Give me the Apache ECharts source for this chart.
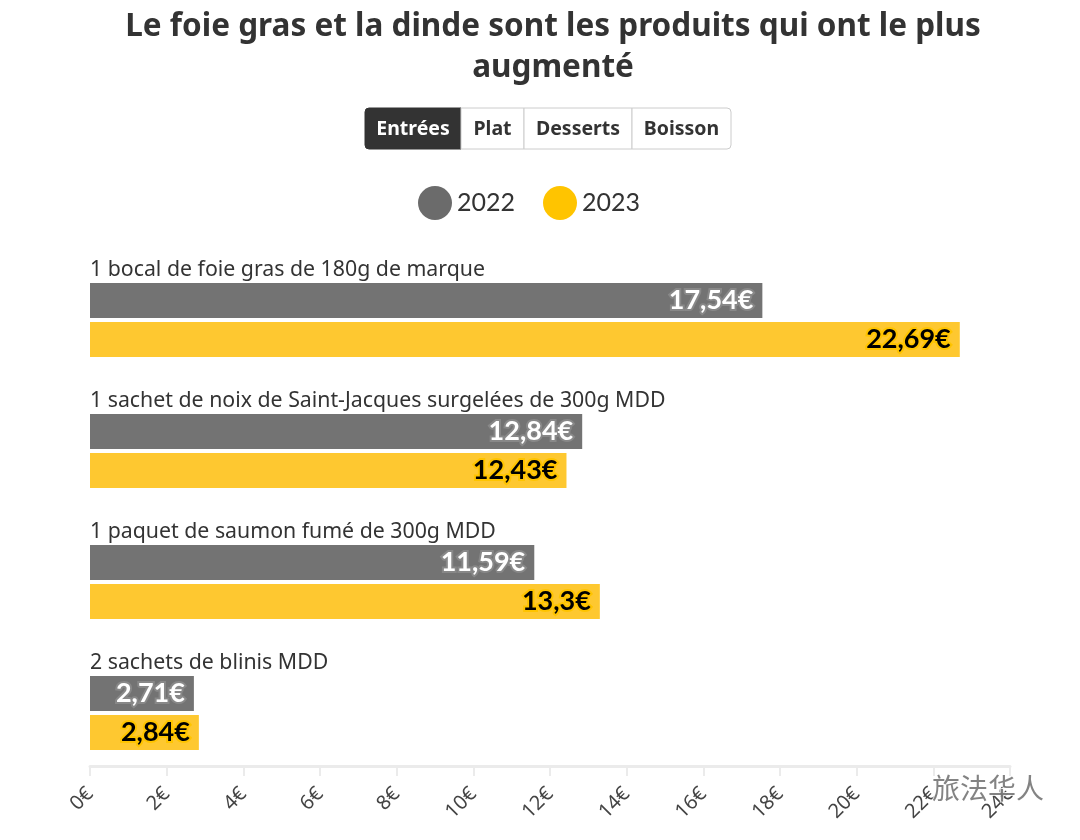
<!DOCTYPE html>
<html><head><meta charset="utf-8">
<script src="https://cdn.jsdelivr.net/npm/echarts@6/dist/echarts.min.js"></script>
<style>html,body{margin:0;padding:0;background:#fff}#c{width:1080px;height:840px}</style>
</head><body><div id="c"></div>
<script>
const categories = [
  "1 bocal de foie gras de 180g de marque",
  "1 sachet de noix de Saint-Jacques surgelées de 300g MDD",
  "1 paquet de saumon fumé de 300g MDD",
  "2 sachets de blinis MDD"
];
const values2022 = [17.54, 12.84, 11.59, 2.71];
const values2023 = [22.69, 12.43, 13.3, 2.84];
const seriesNames = ["2022", "2023"];
const tabs = ["Entrées", "Plat", "Desserts", "Boisson"];
const titleText = "Le foie gras et la dinde sont les produits qui ont le plus\naugmenté";

const FONT = "Lato";
const SANS = "Noto Sans";
const GRAY = "#737373", YELLOW = "#fec830";
const fmt = v => String(v).replace('.', ',') + '€';

// tab buttons
const tabX = [365, 461, 524, 632, 731];
const tabGraphics = [];
tabs.forEach((t, i) => {
  const x0 = tabX[i], x1 = tabX[i + 1];
  tabGraphics.push({
    type: 'rect', shape: { x: x0, y: 108, width: x1 - x0, height: 41, r: i === 0 ? [4, 0, 0, 4] : (i === tabs.length - 1 ? [0, 4, 4, 0] : 0) },
    style: { fill: i === 0 ? '#333333' : '#ffffff', stroke: i === 0 ? '#333333' : '#cccccc', lineWidth: 1 }
  });
  tabGraphics.push({
    type: 'text', x: (x0 + x1) / 2, y: 129.5,
    style: { text: t, fill: i === 0 ? '#ffffff' : '#333333', font: 'bold 19.5px "' + SANS + '"', align: 'center', verticalAlign: 'middle' }
  });
});

const chart = echarts.init(document.getElementById('c'));
chart.setOption({
  animation: false,
  title: {
    text: titleText, left: 548, textAlign: 'center', top: 2,
    textStyle: { fontFamily: SANS, fontWeight: 'bold', fontSize: 31.5, color: '#333', lineHeight: 41 }
  },
  legend: {
    top: 181, left: 413, itemWidth: 34, itemHeight: 34, itemGap: 28, icon: 'circle',
    textStyle: { fontFamily: FONT, fontSize: 25, color: '#333', padding: [0, 0, 0, 0] },
    data: [{ name: seriesNames[0], itemStyle: { color: '#6b6b6b' } }, { name: seriesNames[1], itemStyle: { color: '#ffc400' } }]
  },
  grid: { left: 90, right: 70, top: 254.5, bottom: 61.5, containLabel: false },
  xAxis: {
    type: 'value', min: 0, max: 24, interval: 2, offset: -12.5,
    axisLine: { show: true, lineStyle: { color: '#ebebeb', width: 3 } },
    axisTick: { show: true, length: 10, lineStyle: { color: '#ebebeb', width: 2 } },
    splitLine: { show: false },
    axisLabel: { rotate: 45, margin: 25, formatter: v => v + '€', fontFamily: SANS, fontSize: 20, color: '#444' }
  },
  yAxis: {
    type: 'category', data: categories, inverse: true,
    axisLine: { show: false }, axisTick: { show: false },
    axisLabel: {
      inside: true, margin: 0, align: 'left', verticalAlign: 'bottom', padding: [0, 0, 40, 0],
      fontFamily: SANS, fontSize: 21.3, color: '#333'
    }
  },
  series: [
    {
      name: seriesNames[0], type: 'bar', data: values2022, barWidth: 35, barGap: '11%',
      itemStyle: { color: GRAY },
      label: { show: true, position: 'insideRight', distance: 9, formatter: p => fmt(p.value),
        fontFamily: FONT, fontWeight: 'bold', fontSize: 27, color: '#fff', textBorderColor: '#888888', textBorderWidth: 4 }
    },
    {
      name: seriesNames[1], type: 'bar', data: values2023, barWidth: 35,
      itemStyle: { color: YELLOW },
      label: { show: true, position: 'insideRight', distance: 9, formatter: p => fmt(p.value),
        fontFamily: FONT, fontWeight: 'bold', fontSize: 27, color: '#000', textBorderColor: '#ffc400', textBorderWidth: 4 }
    }
  ],
  graphic: tabGraphics.concat([
    { type: 'text', x: 932, y: 774, z: 100,
      style: { text: '旅法华人', font: '28px "Noto Sans CJK SC"', fill: 'rgba(90,90,90,0.75)', stroke: 'rgba(255,255,255,0.8)', lineWidth: 2 } }
  ])
});
</script></body></html>
